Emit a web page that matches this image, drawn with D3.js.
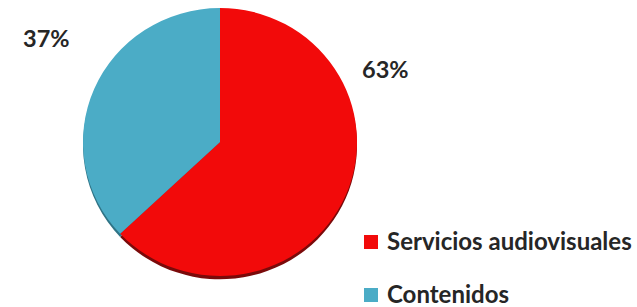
<!DOCTYPE html>
<html lang="es">
<head>
    <meta charset="UTF-8">
    <title>Chart</title>
    <style>
        body { margin: 0; background: #fff; }
        svg { display: block; }
        text { font-family: Lato, "Open Sans", sans-serif; font-weight: bold; fill: #262626; }
    </style>
</head>
<script src="https://cdn.jsdelivr.net/npm/d3@7"></script>
<body>
    <div id="graphic"></div>
    <script>
        var categories = ['Servicios audiovisuales', 'Contenidos'];
        var values = [63, 37];
        var labels = ['63%', '37%'];
        var colors = ['#f20a0a', '#4bacc6'];
        var shadeColors = ['#7a0a0a', '#2f7486'];

        var width = 637;
        var height = 307;

        var svg = d3.select('#graphic')
            .append('svg')
            .attr('width', width)
            .attr('height', height);

        var data = categories.map(function (c, i) {
            return { name: c, value: values[i], label: labels[i], color: colors[i], shade: shadeColors[i] };
        });

        // clockwise from 12 o'clock, red first
        var pie = d3.pie().sort(null).value(function (d) { return d.value; });
        var arcs = pie(data);
        var arc = d3.arc().innerRadius(0).outerRadius(137);

        // dark rim under the pie, gives the small 3d look
        var rim = svg.append('g').attr('transform', 'translate(220,145) scale(1,0.98)');
        rim.selectAll('path')
            .data(arcs)
            .join('path')
            .attr('d', arc)
            .attr('fill', function (d) { return d.data.shade; });

        var g = svg.append('g').attr('transform', 'translate(220,142) scale(1,0.978)');
        g.selectAll('path')
            .data(arcs)
            .join('path')
            .attr('d', arc)
            .attr('fill', function (d) { return d.data.color; });

        // percent labels outside
        var labelPos = [[362, 78], [23, 47]];
        svg.selectAll('.pct')
            .data(arcs)
            .join('text')
            .attr('class', 'pct')
            .attr('x', function (d, i) { return labelPos[i][0]; })
            .attr('y', function (d, i) { return labelPos[i][1]; })
            .style('font-size', '23.5px')
            .text(function (d) { return d.data.label; });

        // legend
        var legend = svg.selectAll('.leg')
            .data(data)
            .join('g')
            .attr('class', 'leg')
            .attr('transform', function (d, i) { return 'translate(364,' + (235 + i * 53) + ')'; });

        legend.append('rect')
            .attr('width', 14)
            .attr('height', 14)
            .attr('fill', function (d) { return d.color; });

        legend.append('text')
            .attr('x', 23)
            .attr('y', 15)
            .style('font-size', '24px')
            .text(function (d) { return d.name; });
    </script>
</body>
</html>
